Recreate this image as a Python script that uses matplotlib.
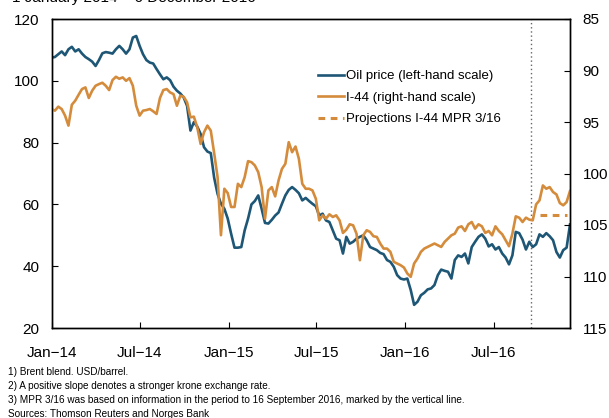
import pandas as pd
import matplotlib.pyplot as plt
import matplotlib.dates as mdates

plt.rcParams['font.family'] = ['Liberation Sans', 'DejaVu Sans']

# Weekly readings, 1 January 2014 - 6 December 2016
oil_price = [
    107.5, 107.7, 108.6, 109.5, 108.3, 110.2, 111.0, 109.5, 110.2, 108.8,
    107.7, 107.0, 106.2, 104.8, 106.7, 108.9, 109.3, 109.1, 108.8, 110.2,
    111.3, 110.2, 108.8, 110.2, 114.0, 114.5, 111.3, 108.6, 106.7, 105.9,
    105.6, 103.8, 102.1, 100.5, 101.1, 100.2, 98.1, 96.8, 95.9, 94.6,
    91.9, 83.9, 86.6, 85.2, 82.8, 78.5, 77.1, 76.6, 68.6, 63.4,
    60.2, 58.6, 55.4, 50.5, 46.0, 46.0, 46.2, 51.6, 55.4, 60.0,
    61.1, 62.9, 58.6, 54.0, 53.8, 55.0, 56.4, 57.4, 60.2, 62.9,
    64.7, 65.6, 64.7, 63.6, 61.3, 62.1, 61.1, 60.2, 59.4, 56.4,
    57.0, 54.8, 54.3, 51.6, 48.9, 48.4, 44.1, 49.5, 47.3, 47.9,
    48.9, 49.5, 50.0, 48.4, 46.2, 45.7, 45.2, 44.3, 43.9, 42.0,
    41.4, 39.8, 37.1, 36.0, 35.7, 36.0, 32.3, 27.5, 28.5, 30.6,
    31.4, 32.5, 32.8, 33.9, 37.1, 38.9, 38.5, 38.2, 36.0, 42.0,
    43.5, 43.0, 44.1, 40.9, 46.2, 47.9, 49.5, 50.3, 48.9, 46.4,
    47.1, 45.4, 46.2, 44.1, 42.8, 40.6, 43.5, 51.1, 50.7, 48.6,
    45.4, 47.9, 46.2, 47.1, 50.3, 49.5, 50.7, 49.7, 48.4, 44.6,
    42.8, 45.2, 46.0, 53.5,
]

i44 = [
    93.74, 93.90, 93.51, 93.74, 94.38, 95.35, 93.32, 92.93, 92.35, 91.80,
    91.64, 92.67, 91.96, 91.48, 91.32, 91.19, 91.48, 91.90, 90.93, 90.61,
    90.80, 90.67, 91.00, 90.74, 91.48, 93.42, 94.38, 93.90, 93.84, 93.74,
    93.96, 94.22, 92.67, 91.90, 91.80, 92.13, 92.29, 93.42, 92.45, 92.55,
    93.09, 94.55, 94.48, 95.51, 97.13, 96.00, 95.35, 95.84, 98.03, 100.35,
    105.99, 101.48, 101.90, 103.25, 103.25, 101.00, 101.32, 100.35, 98.80, 98.90,
    99.22, 99.87, 101.32, 104.38, 101.64, 101.32, 102.22, 100.67, 99.55, 99.06,
    96.96, 97.93, 97.38, 98.58, 101.00, 101.48, 101.48, 101.64, 102.45, 104.55,
    104.06, 104.38, 103.96, 104.22, 104.06, 104.55, 105.77, 105.45, 104.93, 105.03,
    105.84, 108.42, 106.00, 105.51, 105.67, 106.09, 106.16, 106.80, 107.29, 107.29,
    107.61, 108.58, 108.74, 108.90, 109.13, 109.71, 110.03, 108.74, 108.25, 107.61,
    107.29, 107.13, 106.96, 106.80, 106.96, 107.13, 106.64, 106.32, 106.00, 105.84,
    105.25, 105.13, 105.58, 104.93, 104.71, 105.35, 104.93, 105.13, 105.77, 105.58,
    106.00, 105.13, 105.58, 105.90, 106.48, 107.06, 105.84, 104.16, 104.29, 104.71,
    104.29, 104.48, 104.55, 103.00, 102.61, 101.16, 101.48, 101.32, 101.80, 102.03,
    102.87, 103.09, 102.77, 101.70,
]

dates = pd.date_range(end='2016-12-06', periods=len(oil_price), freq='7D')

proj_dates = pd.to_datetime(['2016-10-04', '2016-11-30'])
proj_values = [104.0, 104.0]

mpr_date = pd.Timestamp('2016-09-16')

tick_dates = pd.to_datetime(['2014-01-01', '2014-07-01', '2015-01-01',
                             '2015-07-01', '2016-01-01', '2016-07-01'])
tick_labels = ['Jan\u221214', 'Jul\u221214', 'Jan\u221215',
               'Jul\u221215', 'Jan\u221216', 'Jul\u221216']

blue = '#1e5676'
orange = '#d48c3c'

fig = plt.figure(figsize=(6.09, 4.18), dpi=100)
ax = fig.add_axes([52 / 609, 1 - 328 / 418, 518 / 609, 309 / 418])
ax2 = ax.twinx()

l1, = ax.plot(dates, oil_price, color=blue, linewidth=1.9)
l2, = ax2.plot(dates, i44, color=orange, linewidth=1.9)
l3, = ax2.plot(proj_dates, proj_values, color=orange, linewidth=2.2,
               linestyle=(0, (2.2, 1.8)))
ax.axvline(mpr_date, color='#666666', linewidth=1, linestyle=(0, (1, 2)))

ax.set_xlim(pd.Timestamp('2014-01-01'), pd.Timestamp('2016-12-06'))
ax.set_ylim(20, 120)
ax.set_yticks(range(20, 121, 20))
ax2.set_ylim(115, 85)
ax2.set_yticks(range(85, 116, 5))
ax.set_xticks(tick_dates)
ax.set_xticklabels(tick_labels)

ax.tick_params(axis='y', direction='in', length=4, labelsize=11, pad=9)
ax.tick_params(axis='x', direction='in', length=4, labelsize=11, pad=13)
ax2.tick_params(axis='y', direction='in', length=4, labelsize=11, pad=9)
for a in (ax, ax2):
    for s in a.spines.values():
        s.set_linewidth(1)

ax.legend([l1, l2, l3],
          ['Oil price (left-hand scale)', 'I-44 (right-hand scale)',
           'Projections I-44 MPR 3/16'],
          loc='upper left', bbox_to_anchor=(318 / 609, 1 - 70 / 418),
          bbox_transform=fig.transFigure, frameon=False, fontsize=9.5,
          borderpad=0, borderaxespad=0, handlelength=2.0, handletextpad=0.15,
          labelspacing=0.7)

fig.text(0.02, 1 - 2 / 418, '1 January 2014 \u2013 6 December 2016',
         fontsize=11, va='baseline', ha='left')

notes = ['1) Brent blend. USD/barrel.',
         '2) A positive slope denotes a stronger krone exchange rate.',
         '3) MPR 3/16 was based on information in the period to 16 September 2016, marked by the vertical line.',
         'Sources: Thomson Reuters and Norges Bank']
for i, n in enumerate(notes):
    fig.text(8 / 609, 1 - (372 + 14 * i) / 418, n, fontsize=7.2,
             va='center', ha='left')

fig.savefig('out.png', dpi=100)
